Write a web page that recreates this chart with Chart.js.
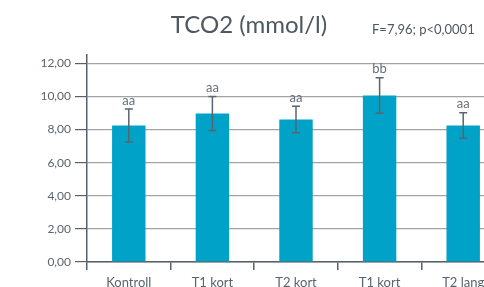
<!DOCTYPE html>
<html>
<head>
<meta charset="utf-8">
<script src="https://cdn.jsdelivr.net/npm/chart.js@4/dist/chart.umd.min.js"></script>
<style>
  html, body { margin:0; padding:0; background:#fff; overflow:hidden; }
  #wrap { width:520px; height:287px; }
</style>
</head>
<body>
<div id="wrap"><canvas id="chart" width="520" height="287"></canvas></div>
<script>
// Data
const groups = ["Kontroll", "T1 kort", "T2 kort", "T1 kort", "T2 lang"];
const means = [8.24, 8.97, 8.60, 10.06, 8.24];
const errors = [1.00, 1.03, 0.80, 1.07, 0.77];
const letters = ["aa", "aa", "aa", "bb", "aa"];
const yTicks = [0, 2, 4, 6, 8, 10, 12];

const titleText = "TCO2 (mmol/l)";
const statText = "F=7,96; p<0,0001";

const FONT = "Lato, 'Open Sans', sans-serif";
const axisColor = "#56616b";

// error bars + letters + titles
const extras = {
  id: "extras",
  afterDatasetsDraw(chart) {
    const ctx = chart.ctx;
    const x = chart.scales.x, y = chart.scales.y;
    ctx.save();
    means.forEach((m, i) => {
      const cx = x.getPixelForValue(i);
      const top = y.getPixelForValue(m + errors[i]);
      const bot = y.getPixelForValue(m - errors[i]);
      ctx.strokeStyle = "#5a656d";
      ctx.lineWidth = 1.5;
      ctx.beginPath();
      ctx.moveTo(cx, top); ctx.lineTo(cx, bot);
      ctx.moveTo(cx - 4, top); ctx.lineTo(cx + 4, top);
      ctx.moveTo(cx - 4, bot); ctx.lineTo(cx + 4, bot);
      ctx.stroke();
      ctx.fillStyle = "#666f76";
      ctx.font = "13px " + FONT;
      ctx.textAlign = "center";
      ctx.textBaseline = "bottom";
      ctx.fillText(letters[i], cx, top - 2);
    });
    ctx.fillStyle = "#4d5860";
    ctx.font = "24px " + FONT;
    ctx.textAlign = "center";
    ctx.textBaseline = "alphabetic";
    ctx.fillText(titleText, 249, 33);
    ctx.font = "13px " + FONT;
    ctx.textAlign = "left";
    ctx.fillText(statText, 372, 34);
    ctx.restore();
  }
};

new Chart(document.getElementById("chart"), {
  type: "bar",
  data: {
    labels: groups,
    datasets: [{
      data: means,
      backgroundColor: "#00a2c7",
      barPercentage: 0.4,
      categoryPercentage: 1.0
    }]
  },
  options: {
    responsive: false,
    animation: false,
    layout: { padding: { left: 0, top: 55, right: 15, bottom: 0 } },
    plugins: { legend: { display: false }, tooltip: { enabled: false } },
    scales: {
      x: {
        grid: { drawOnChartArea: false, drawTicks: true, tickLength: 8, color: axisColor, lineWidth: 1.5 },
        border: { color: axisColor, width: 1.5 },
        ticks: { color: "#5a646c", font: { family: FONT, size: 13 }, padding: 5, maxRotation: 0 },
        afterFit(s) { s.height = 25; }
      },
      y: {
        min: 0, max: 12.5,
        afterBuildTicks(s) { s.ticks = yTicks.map(v => ({ value: v })); },
        grid: { color: "#a3a3a3", lineWidth: 1.2, tickLength: 12, tickColor: axisColor },
        border: { color: axisColor, width: 1.5 },
        ticks: {
          color: "#5a646c", font: { family: FONT, size: 12 }, padding: 4,
          callback: v => v.toFixed(2).replace(".", ",")
        },
        afterFit(s) { s.width = 87; }
      }
    }
  },
  plugins: [extras]
});
</script>
</body>
</html>
